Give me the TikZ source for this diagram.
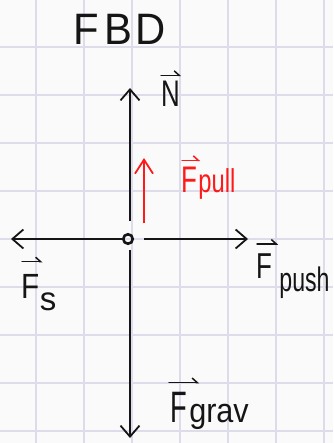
\documentclass[tikz,border=0pt]{standalone}
\usepackage{fontspec}
\setmainfont{Liberation Sans}
\usetikzlibrary{arrows.meta}
\definecolor{paper}{HTML}{FAFAFB}
\definecolor{gridc}{HTML}{DCDCEA}
\definecolor{pen}{HTML}{151515}
\definecolor{redpen}{HTML}{FF1A1A}
\begin{document}
\begin{tikzpicture}[x=1pt,y=-1pt,
  gridline/.style={draw=gridc, line width=1.6pt},
  force/.style={draw=pen, line width=1.8pt, -{Straight Barb[length=11pt,width=19pt,line width=1.8pt]}},
  pullforce/.style={draw=redpen, line width=1.8pt, -{Straight Barb[length=14pt,width=18pt,line width=1.8pt]}},
  vecarrow/.style={line width=1.5pt, line cap=round, -{Straight Barb[left,length=5pt,width=9pt,line width=1.5pt]}},
  lbl/.style={inner sep=0pt, anchor=base west, text=pen},
  body/.style={circle, draw=pen, line width=2.6pt, minimum size=9.5pt, inner sep=0pt}
]
\fill[paper] (0,0) rectangle (333,443);
\useasboundingbox (0,0) rectangle (333,443);
\foreach \x in {36,84,...,324} \draw[gridline] (\x,0) -- (\x,443);
\foreach \y in {47,95,...,431} \draw[gridline] (0,\y) -- (333,\y);

% title
\node[inner sep=0pt, text=pen, font=\fontsize{44}{48}\selectfont] (title) at (120,29) {\scalebox{0.95}[1]{F\hspace{5pt}B\hspace{4pt}D}};

% body
\node[body] (o) at (128,239) {};

% connector ends
\coordinate (nBase) at (130,221);
\coordinate (nTip) at (130,88);
\coordinate (gBase) at (130,250);
\coordinate (gTip) at (130,438);
\coordinate (pBase) at (144,239);
\coordinate (pTip) at (248,239);
\coordinate (sTip) at (11,239);
\coordinate (uBase) at (144,223);
\coordinate (uTip) at (144,158);

\draw[force] (nBase) -- (nTip);
\draw[force] (gBase) -- (gTip);
\draw[force] (pBase) -- (pTip);
\draw[force] (o.west) -- (sTip);
\draw[pullforce] (uBase) -- (uTip);

% labels
\node[lbl, font=\fontsize{37}{40}\selectfont] (NL) at (161,107) {\scalebox{0.7}[1]{N}};
\draw[vecarrow, draw=pen] ([shift={(0,-6)}]NL.north west) -- ([shift={(1,-6)}]NL.north east);

\node[lbl, text=redpen, font=\fontsize{37}{40}\selectfont] (FpullF) at (181,193) {\scalebox{0.7}[1]{F}};
\node[lbl, text=redpen, font=\fontsize{33}{36}\selectfont] (FpullS) at ([xshift=1pt]FpullF.base east) {\scalebox{0.72}[1]{pull}};
\draw[vecarrow, draw=redpen] ([shift={(1,-7)}]FpullF.north west) -- ([shift={(3,-7)}]FpullF.north east);

\node[lbl, font=\fontsize{36}{40}\selectfont] (FpushF) at (256,278) {\scalebox{0.72}[1]{F}};
\node[lbl, font=\fontsize{34}{36}\selectfont] (FpushS) at ([shift={(7,13)}]FpushF.base east) {\scalebox{0.68}[1]{push}};
\draw[vecarrow, draw=pen] ([shift={(1,-9)}]FpushF.north west) -- ([shift={(6,-9)}]FpushF.north east);

\node[lbl, font=\fontsize{35}{40}\selectfont] (FsF) at (21,298) {\scalebox{0.85}[1]{F}};
\node[lbl, font=\fontsize{33}{36}\selectfont] (FsS) at ([shift={(0,12)}]FsF.base east) {s};
\draw[vecarrow, draw=pen] ([shift={(1,-12)}]FsF.north west) -- ([shift={(3,-12)}]FsF.north east);

\node[lbl, font=\fontsize{44}{48}\selectfont] (FgravF) at (170,422) {\scalebox{0.62}[1]{F}};
\node[lbl, font=\fontsize{34}{36}\selectfont] (FgravS) at ([xshift=2pt]FgravF.base east) {\scalebox{0.9}[1]{grav}};
\draw[vecarrow, draw=pen] ([shift={(-1,-9)}]FgravF.north west) -- ([shift={(12,-9)}]FgravF.north east);
\end{tikzpicture}
\end{document}
